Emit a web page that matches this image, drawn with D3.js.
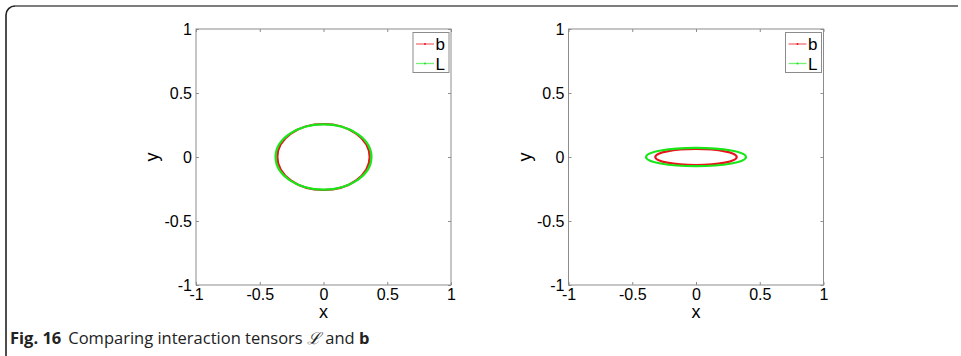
<!DOCTYPE html>
<html>
<head>
<meta charset="utf-8">
<script src="https://cdn.jsdelivr.net/npm/d3@7"></script>
<style>
  html, body { margin: 0; padding: 0; background: #fff; }
  svg { display: block; }
</style>
</head>
<body>
<svg id="chart" width="961" height="356"></svg>
<script>
// ---- data ----
const panels = ["left", "right"];
const seriesNames = ["b", "L"];
const seriesColors = ["#e8141b", "#19e619"];
// ellipse semi-axes [rx, ry] per panel, per series (b, L), centred at (0,0)
const bRadii = [[0.362, 0.258], [0.320, 0.063]];
const LRadii = [[0.376, 0.255], [0.392, 0.072]];
const ellipseCenters = [[0, 0], [0, 0]];
const tickValues = [-1, -0.5, 0, 0.5, 1];
const tickLabels = ["-1", "-0.5", "0", "0.5", "1"];
const xDomain = [-1, 1];
const yDomain = [-1, 1];

const svg = d3.select("#chart");
const sans = "'Liberation Sans', Arial, sans-serif";

// figure frame
svg.append("path").attr("d", "M6,356 V15 A9,9 0 0 1 15,6")
  .attr("fill", "none").attr("stroke", "#222").attr("stroke-width", 1.6);
svg.append("line").attr("x1", 15).attr("x2", 958).attr("y1", 6).attr("y2", 6)
  .attr("stroke", "#7d7d7d").attr("stroke-width", 2.2);

const axesLefts = [196, 568.5];
const axTop = 29, axBottom = 285, axWidth = 255;

panels.forEach((p, i) => {
  const x = d3.scaleLinear().domain(xDomain).range([axesLefts[i], axesLefts[i] + axWidth]);
  const y = d3.scaleLinear().domain(yDomain).range([axBottom, axTop]);
  const g = svg.append("g");

  // box
  g.append("rect").attr("x", x(-1)).attr("y", y(1))
    .attr("width", x(1) - x(-1)).attr("height", y(-1) - y(1))
    .attr("fill", "#fff").attr("stroke", "#8c8c8c").attr("stroke-width", 1);

  const tickLen = 3;
  const fmt = v => tickLabels[tickValues.indexOf(v)];
  // axes with inward ticks
  const xb = g.append("g").attr("transform", `translate(0,${axBottom})`)
    .call(d3.axisBottom(x).tickValues(tickValues).tickFormat(fmt).tickSizeInner(-tickLen).tickSizeOuter(0).tickPadding(4));
  const xt = g.append("g").attr("transform", `translate(0,${axTop})`)
    .call(d3.axisTop(x).tickValues(tickValues).tickFormat("").tickSizeInner(-tickLen).tickSizeOuter(0));
  const yl = g.append("g").attr("transform", `translate(${x(-1)},0)`)
    .call(d3.axisLeft(y).tickValues(tickValues).tickFormat(fmt).tickSizeInner(-tickLen).tickSizeOuter(0).tickPadding(4));
  const yr = g.append("g").attr("transform", `translate(${x(1)},0)`)
    .call(d3.axisRight(y).tickValues(tickValues).tickFormat("").tickSizeInner(-tickLen).tickSizeOuter(0));
  [xb, xt, yl, yr].forEach(a => {
    a.select(".domain").remove();
    a.selectAll("line").attr("stroke", "#8c8c8c");
    a.selectAll("text").attr("fill", "#000").style("font-family", sans).style("font-size", "16px");
  });
  yl.selectAll("text").attr("dy", "0.36em");

  // axis labels
  g.append("text").attr("x", x(0)).attr("y", 318).attr("text-anchor", "middle")
    .style("font-family", sans).style("font-size", "18px").attr("fill", "#000").text("x");
  g.append("text").attr("transform", `translate(${x(-1) - 44},${y(0)}) rotate(-90)`).attr("text-anchor", "middle")
    .attr("dy", "0.35em")
    .style("font-family", sans).style("font-size", "18px").attr("fill", "#000").text("y");

  // ellipses
  const radii = [bRadii[i], LRadii[i]];
  radii.forEach((r, k) => {
    g.append("ellipse")
      .attr("cx", x(ellipseCenters[i][0])).attr("cy", y(ellipseCenters[i][1]))
      .attr("rx", x(r[0]) - x(0)).attr("ry", y(0) - y(r[1]))
      .attr("fill", "none").attr("stroke", seriesColors[k]).attr("stroke-width", 2.2);
  });

  // legend
  const lx = x(1) - 38, ly = y(1) + 3.5, lw = 36, lh = 40;
  const lg = g.append("g");
  lg.append("rect").attr("x", lx).attr("y", ly).attr("width", lw).attr("height", lh)
    .attr("fill", "#fff").attr("stroke", "#8c8c8c").attr("stroke-width", 1);
  seriesNames.forEach((s, k) => {
    const yy = ly + 11.5 + k * 19.5;
    lg.append("line").attr("x1", lx + 3).attr("x2", lx + 21).attr("y1", yy).attr("y2", yy)
      .attr("stroke", seriesColors[k]).attr("stroke-opacity", 0.6).attr("stroke-width", 1.3);
    lg.append("circle").attr("cx", lx + 12).attr("cy", yy).attr("r", 1)
      .attr("fill", seriesColors[k]);
    lg.append("text").attr("x", lx + 22.5).attr("y", yy).attr("dy", "0.36em")
      .style("font-family", sans).style("font-size", "17px").attr("fill", "#000").text(s);
  });
});

// caption
const cap = svg.append("text").attr("x", 10).attr("y", 344)
  .style("font-family", "'Open Sans', 'Noto Sans', sans-serif").style("font-size", "16.5px").attr("fill", "#222");
cap.append("tspan").attr("font-weight", "bold").text("Fig. 16");
cap.append("tspan").attr("dx", 7).text("Comparing interaction tensors ");
cap.append("tspan").style("font-family", "'DejaVu Serif', serif").style("font-style", "italic").text("ℒ");
cap.append("tspan").text(" and ");
cap.append("tspan").attr("font-weight", "bold").text("b");
</script>
</body>
</html>
